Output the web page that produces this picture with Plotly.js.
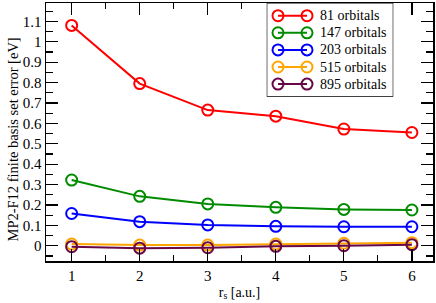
<!DOCTYPE html>
<html><head><meta charset="utf-8">
<script src="https://cdn.plot.ly/plotly-3.0.1.min.js"></script>
<style>html,body{margin:0;padding:0;background:#fff}#c{width:436px;height:303px}</style>
</head><body><div id="c"></div>
<script>
const rs = [1, 2, 3, 4, 5, 6];
const names = ['81 orbitals', '147 orbitals', '203 orbitals', '515 orbitals', '895 orbitals'];
const err81  = [1.08, 0.795, 0.665, 0.635, 0.572, 0.555];
const err147 = [0.322, 0.242, 0.205, 0.188, 0.178, 0.175];
const err203 = [0.158, 0.118, 0.102, 0.095, 0.093, 0.093];
const err515 = [0.008, 0.003, 0.003, 0.008, 0.012, 0.015];
const err895 = [-0.005, -0.012, -0.010, -0.003, 0.000, 0.005];
const series = [err81, err147, err203, err515, err895];
const colors = ['#ff0000', '#008b00', '#0000ff', '#ffa500', '#670748'];
const yTitle = 'MP2-F12 finite basis set error [eV]';
const xTitle = 'r<sub>s</sub> [a.u.]';

const serif = '"Liberation Serif", "DejaVu Serif", serif';
const font = {family: serif, size: 15, color: '#000'};
const legFont = {family: serif, size: 14, color: '#000'};
const titleFont = {family: serif, size: 14, color: '#000'};

function markerOf(c) {
  return {symbol: 'circle-open', size: 11, color: c, line: {width: 2, color: c}};
}

const traces = series.map((ys, i) => ({
  x: rs, y: ys, name: names[i], type: 'scatter', mode: 'lines+markers',
  showlegend: false,
  line: {color: colors[i], width: 2},
  marker: markerOf(colors[i])
}));

// Grace-style legend (marker at each end of the sample line) in its own pixel-unit subplot.
const LEG_W = 126.6, LEG_H = 93.7, ROW0 = 12.7, ROW_STEP = 17.1;
const annotations = [];
names.forEach((nm, i) => {
  const yRow = ROW0 + i * ROW_STEP;
  traces.push({
    x: [11.3, 40.3], y: [yRow, yRow], xaxis: 'x2', yaxis: 'y2',
    type: 'scatter', mode: 'lines+markers', showlegend: false, hoverinfo: 'skip',
    line: {color: colors[i], width: 2}, marker: markerOf(colors[i])
  });
  annotations.push({
    x: 51, y: yRow, xref: 'x2', yref: 'y2', text: nm, showarrow: false,
    xanchor: 'left', yanchor: 'middle', font: legFont
  });
});
annotations.push({
  x: 0, y: 0.471, xref: 'paper', yref: 'paper', text: yTitle, showarrow: false,
  textangle: -90, xanchor: 'center', yanchor: 'middle', xshift: -33,
  font: {family: serif, size: 14.5, color: '#000'}
});

const layout = {
  width: 436, height: 303,
  margin: {l: 46, r: 3, t: 3, b: 42},
  paper_bgcolor: '#fff', plot_bgcolor: 'rgba(0,0,0,0)',
  font: font,
  showlegend: false,
  xaxis: {range: [0.623, 6.31], tickvals: rs, ticktext: rs.map(String),
          ticks: 'inside', ticklen: 12, tickwidth: 1.2, tickcolor: '#000',
          minor: {dtick: 0.5, ticks: 'inside', ticklen: 6, tickwidth: 1.2, tickcolor: '#000'},
          showline: true, linecolor: '#000', linewidth: 1.5, mirror: 'allticks',
          showgrid: false, zeroline: false, tickfont: font,
          title: {text: xTitle, font: titleFont, standoff: 4}},
  yaxis: {range: [-0.075, 1.19], tick0: 0, dtick: 0.1,
          ticks: 'inside', ticklen: 12, tickwidth: 1.2, tickcolor: '#000',
          minor: {dtick: 0.05, ticks: 'inside', ticklen: 7, tickwidth: 1.2, tickcolor: '#000'},
          showline: true, linecolor: '#000', linewidth: 1.5, mirror: 'allticks',
          showgrid: false, zeroline: false, tickfont: font},
  xaxis2: {domain: [0.5703, 0.8974], anchor: 'y2', range: [0, LEG_W], visible: false, fixedrange: true},
  yaxis2: {domain: [0.6368, 1], anchor: 'x2', range: [LEG_H, 0], visible: false, fixedrange: true},
  shapes: [{type: 'rect', xref: 'x2', yref: 'y2', x0: 0, x1: LEG_W, y0: 0, y1: LEG_H,
            fillcolor: '#fff', line: {color: '#000', width: 1.2}, layer: 'below'}],
  annotations: annotations
};
Plotly.newPlot('c', traces, layout, {displayModeBar: false, staticPlot: true});
</script></body></html>
